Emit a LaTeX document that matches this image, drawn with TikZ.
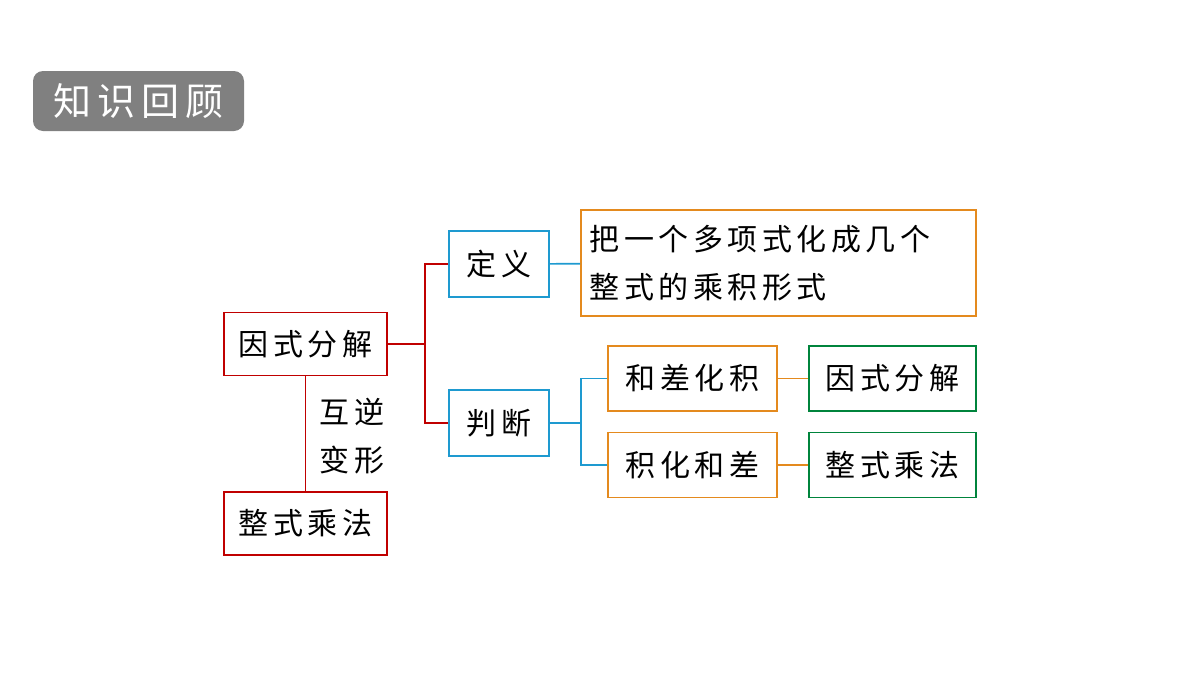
\documentclass[tikz,border=0pt]{standalone}
\usepackage{fontspec}
\setmainfont{Noto Sans CJK SC}[LetterSpace=15]
\usetikzlibrary{positioning}
\definecolor{redline}{HTML}{C00000}
\definecolor{blueline}{HTML}{1E9AD0}
\definecolor{orangeline}{HTML}{E48A1E}
\definecolor{greenline}{HTML}{00843C}
\definecolor{titlegray}{HTML}{808080}
\tikzset{
x=0.5pt, y=-0.5pt,
box/.style={draw, line width=0.8pt, inner sep=0pt, font=\fontsize{15}{20}\selectfont},
redbox/.style={box, draw=redline, minimum width=81.5pt, minimum height=31.5pt},
bluebox/.style={box, draw=blueline, minimum width=50pt, minimum height=33pt},
orangebox/.style={box, draw=orangeline, minimum width=84.5pt, minimum height=32.5pt},
greenbox/.style={box, draw=greenline, minimum width=83.5pt, minimum height=32.5pt},
link/.style={line width=0.8pt},
}
\begin{document}
\begin{tikzpicture}
\useasboundingbox (0,0) rectangle (1200,675);
% title
\node[fill=titlegray, rounded corners=5pt, text=white, minimum width=105.5pt, minimum height=30pt, inner sep=0pt, font=\fontsize{19}{22}\selectfont] (title) at (138.5,101) {知识回顾};
% left column
\node[redbox] (yinshi) at (305.5,344) {因式分解};
\node[redbox] (zhengshi) at (305.5,523.5) {整式乘法};
\draw[link, redline] (yinshi) -- (zhengshi);
\node[font=\fontsize{15}{20}\selectfont, align=center] (huni) at (352,436) {互逆\\[4pt]变形};
% middle
\node[bluebox] (dingyi) at (499,264) {定义};
\node[bluebox] (panduan) at (499,423) {判断};
\draw[link, redline] (yinshi.east) -| (425,264) -- (dingyi.west);
\draw[link, redline] (425,344) |- (panduan.west);
\node[box, draw=orangeline, minimum width=197.5pt, minimum height=53pt, text width=189pt, align=left, font=\fontsize{15}{24}\selectfont] (def) at (778.5,263) {把一个多项式化成几个\\整式的乘积形式};
\draw[link, blueline] (dingyi) -- (def);
% judge
\node[orangebox] (hecha) at (692.5,378.5) {和差化积};
\node[orangebox] (jihua) at (692.5,465) {积化和差};
\draw[link, blueline] (panduan.east) -- (581,423) |- (hecha.west);
\draw[link, blueline] (581,423) |- (jihua.west);
\node[greenbox] (yinshi2) at (892.5,378.5) {因式分解};
\node[greenbox] (zhengshi2) at (892.5,465) {整式乘法};
\draw[link, orangeline] (hecha) -- (yinshi2);
\draw[link, orangeline] (jihua) -- (zhengshi2);
\end{tikzpicture}
\end{document}
